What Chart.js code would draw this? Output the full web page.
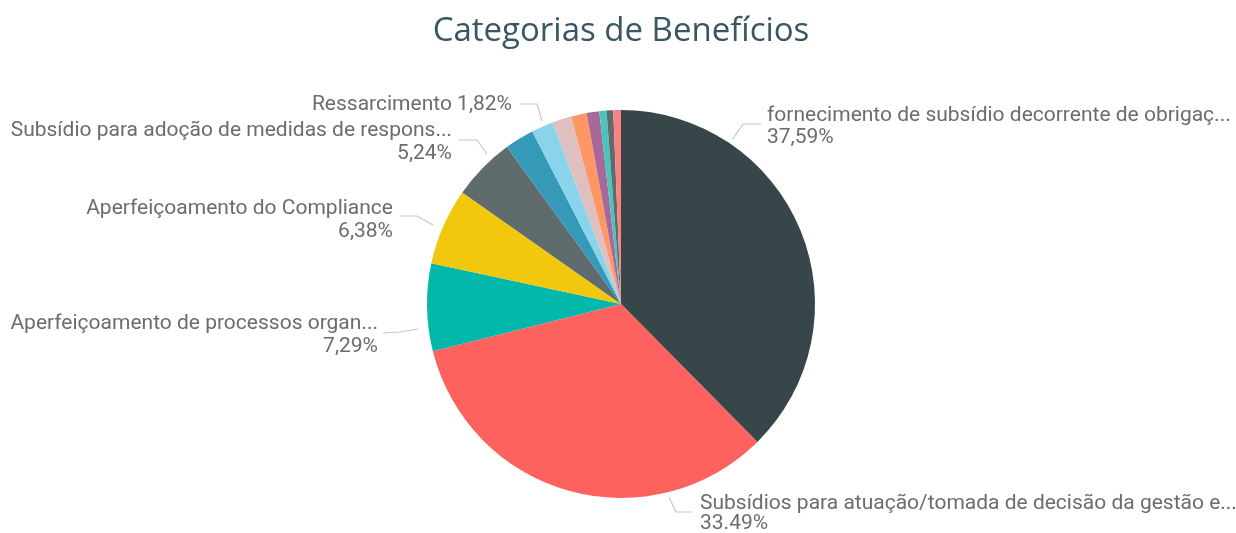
<!DOCTYPE html>
<html>
<head>
<meta charset="utf-8">
<script src="https://cdn.jsdelivr.net/npm/chart.js@4"></script>
<style>
  html, body { margin: 0; padding: 0; background: #ffffff; }
  #wrap { width: 1236px; height: 533px; position: relative; }
</style>
</head>
<body>
<div id="wrap"><canvas id="c"></canvas></div>
<script>
// ---- data ----
const categories = [
  "fornecimento de subsídio decorrente de obrigaç...",
  "Subsídios para atuação/tomada de decisão da gestão e...",
  "Aperfeiçoamento de processos organ...",
  "Aperfeiçoamento do Compliance",
  "Subsídio para adoção de medidas de respons...",
  "Categoria 6",
  "Ressarcimento",
  "Categoria 8",
  "Categoria 9",
  "Categoria 10",
  "Categoria 11",
  "Categoria 12",
  "Categoria 13"
];
const shares = [37.59, 33.49, 7.29, 6.38, 5.24, 2.45, 1.82, 1.60, 1.30, 1.05, 0.60, 0.55, 0.64];
const valueLabels = ["37,59%", "33.49%", "7,29%", "6,38%", "5,24%", "", "1,82%", "", "", "", "", "", ""];
const sliceColors = ["#374649", "#FD625E", "#01B8AA", "#F2C80F", "#5F6B6D", "#3599B8",
                     "#8AD4EB", "#DFBFBF", "#FE9666", "#A66999", "#4AC5BB", "#5F6B6D", "#FB8281"];

// ---- label layout (style), offsets relative to the pie centre ----
const labelLayout = {
  0: { pts: [[111,-164],[122,-180],[140,-180]], tx: 146, align: "left",  lines: [[0,-188],[1,-166]] },
  1: { pts: [[48,193],[55,208],[71,208]],       tx: 79,  align: "left",  lines: [[0,200],[1,220]] },
  2: { pts: [[-203,25],[-221,28],[-238,29]],    tx: -243, align: "right", lines: [[0,20],[1,43]] },
  3: { pts: [[-188,-79],[-204,-88],[-221,-88]], tx: -228, align: "right", lines: [[0,-95],[1,-72]] },
  4: { pts: [[-134,-150],[-144,-164],[-163,-164]], tx: -169, align: "right", lines: [[0,-173],[1,-150]] },
  6: { pts: [[-79,-183],[-84,-200],[-101,-200]], tx: -109, align: "right", lines: [[2,-199]] }
};

const labelPlugin = {
  id: "pieLabels",
  afterDatasetsDraw(chart) {
    const ctx = chart.ctx;
    const meta = chart.getDatasetMeta(0);
    const arc0 = meta.data[0];
    const cx = arc0.x, cy = arc0.y;
    ctx.save();
    Object.keys(labelLayout).forEach(k => {
      const i = +k;
      const L = labelLayout[i];
      ctx.strokeStyle = "#c6c6c6";
      ctx.lineWidth = 1.2;
      ctx.beginPath();
      L.pts.forEach((p, j) => {
        const x = cx + p[0], y = cy + p[1];
        if (j === 0) ctx.moveTo(x, y); else ctx.lineTo(x, y);
      });
      ctx.stroke();
      ctx.fillStyle = "#6c6c6c";
      ctx.font = "21px Roboto";
      ctx.textAlign = L.align;
      ctx.textBaseline = "middle";
      L.lines.forEach(([kind, dy]) => {
        let t;
        if (kind === 0) t = categories[i];
        else if (kind === 1) t = valueLabels[i];
        else t = categories[i] + " " + valueLabels[i];
        ctx.fillText(t, cx + L.tx, cy + dy);
      });
    });
    ctx.restore();
  }
};

new Chart(document.getElementById("c"), {
  type: "pie",
  data: {
    labels: categories,
    datasets: [{
      data: shares,
      backgroundColor: sliceColors,
      borderWidth: 0
    }]
  },
  options: {
    responsive: true,
    maintainAspectRatio: false,
    animation: false,
    layout: { padding: { top: 0, bottom: 35, left: 6, right: 0 } },
    plugins: {
      legend: { display: false },
      tooltip: { enabled: false },
      title: {
        display: true,
        text: "Categorias de Benefícios",
        color: "#395763",
        font: { family: "'Open Sans'", size: 33, weight: "normal", lineHeight: 1.2 },
        padding: { top: 12, bottom: 58.4 }
      }
    }
  },
  plugins: [labelPlugin]
});
</script>
</body>
</html>
